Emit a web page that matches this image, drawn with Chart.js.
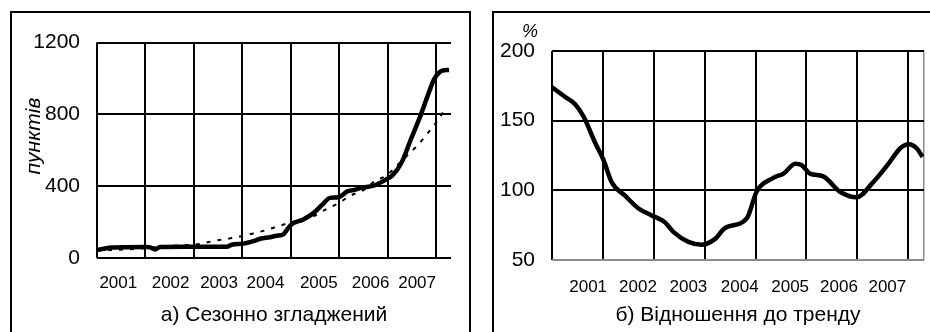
<!DOCTYPE html>
<html>
<head>
<meta charset="utf-8">
<script src="https://cdn.jsdelivr.net/npm/chart.js@4.4.1/dist/chart.umd.min.js"></script>
<style>
  body { margin: 0; background: #fff; width: 930px; height: 332px; overflow: hidden; position: relative; }
  .panel { position: absolute; top: 11px; height: 340px; border: 2px solid #000; }
  #panelA { left: 10px; width: 457px; }
  #panelB { left: 492px; width: 460px; }
  .panel canvas { position: absolute; left: 0; top: 0; }
</style>
</head>
<body>
<div class="panel" id="panelA"><canvas id="chartA" width="457" height="319"></canvas></div>
<div class="panel" id="panelB"><canvas id="chartB" width="436" height="319"></canvas></div>
<script>
// роки для підписів осі X
var yearLabels = ['2001', '2002', '2003', '2004', '2005', '2006', '2007'];
var gridYears = [2001, 2002, 2003, 2004, 2005, 2006, 2007, 2008];

// а) сезонно згладжений індекс, пунктів
var saYears = [2001.00, 2001.15, 2001.30, 2001.60, 2002.00, 2002.09, 2002.20, 2002.30, 2002.80, 2003.30,
  2003.68, 2003.78, 2004.02, 2004.23, 2004.37, 2004.57, 2004.71, 2004.85, 2004.93, 2005.02,
  2005.26, 2005.47, 2005.67, 2005.81, 2005.98, 2006.17, 2006.29, 2006.45, 2006.71, 2006.93,
  2007.10, 2007.29, 2007.48, 2007.69, 2007.85, 2007.96, 2008.07, 2008.16, 2008.27];
var saValues = [45, 52, 58, 60, 61, 60, 48, 61, 62, 62,
  62, 74, 80, 94, 107, 116, 124, 132, 160, 188,
  215, 250, 302, 335, 338, 371, 378, 391, 403, 431,
  460, 532, 660, 800, 920, 995, 1035, 1046, 1048];

// тренд (пунктир)
var trendYears = [2001.00, 2001.13, 2001.54, 2002.00, 2002.40, 2002.82, 2003.06, 2003.30, 2003.54, 2003.81,
  2004.23, 2004.50, 2004.74, 2005.10, 2005.47, 2005.74, 2005.97, 2006.24, 2006.50, 2006.74,
  2006.98, 2007.19, 2007.40, 2007.57, 2007.74, 2007.88, 2008.05, 2008.19];
var trendValues = [40, 43, 47, 55, 65, 72, 76, 89, 101, 112,
  137, 156, 177, 205, 233, 273, 303, 348, 378, 429,
  460, 514, 570, 614, 665, 713, 771, 831];

// б) відношення до тренду, %
var ratioYears = [2001.00, 2001.26, 2001.45, 2001.62, 2001.85, 2002.01, 2002.17, 2002.44, 2002.70, 2002.96,
  2003.22, 2003.39, 2003.68, 2003.94, 2004.20, 2004.40, 2004.83, 2005.02, 2005.35, 2005.55,
  2005.78, 2005.91, 2006.07, 2006.33, 2006.66, 2006.99, 2007.29, 2007.61, 2007.84, 2008.01,
  2008.17, 2008.28];
var ratioValues = [174, 167, 162, 153, 134, 122, 106, 96, 87, 82,
  77, 70, 63, 61, 65, 73, 80, 99, 109, 112,
  119, 118, 112, 110, 99, 95, 105, 119, 130, 133,
  130, 124];

// де стоять підписи років (у частках року)
var labelPosA = [2001.44, 2002.52, 2003.52, 2004.48, 2005.58, 2006.65, 2007.61];
var labelPosB = [2001.71, 2002.69, 2003.68, 2004.69, 2005.68, 2006.64, 2007.59];

var FONT = '"Liberation Sans", Arial, sans-serif';
Chart.defaults.font.family = FONT;
Chart.defaults.color = '#000';

function pts(xs, ys) {
  return xs.map(function (x, i) { return { x: x, y: ys[i] }; });
}

function xScales(labelPos, title, bottomH, tickPad, extraGrid) {
  return {
    x: {
      type: 'linear', min: 2001, max: 2008.31,
      afterBuildTicks: function (scale) {
        var t = gridYears.slice();
        if (extraGrid) t.push(2008.31);
        scale.ticks = t.map(function (v) { return { value: v }; });
      },
      afterFit: function (scale) { scale.height = 0; },
      ticks: { display: false },
      border: { display: false },
      grid: {
        drawTicks: false,
        color: function (c) { return c.tick && c.tick.value > 2008.1 ? '#8c8c8c' : '#000'; },
        lineWidth: function (c) { return c.tick && c.tick.value > 2008.1 ? 1.5 : 2; }
      }
    },
    xl: {
      type: 'linear', position: 'bottom', min: 2001, max: 2008.31,
      afterBuildTicks: function (scale) {
        scale.ticks = labelPos.map(function (v) { return { value: v }; });
      },
      afterFit: function (scale) { scale.height = bottomH; },
      grid: { display: false },
      border: { display: false },
      ticks: {
        autoSkip: false, maxRotation: 0, padding: tickPad,
        font: { size: 17 },
        callback: function (v, i) { return yearLabels[i]; }
      },
      title: { display: true, text: title, font: { size: 21 }, padding: { top: 0, bottom: 4 } }
    }
  };
}

// підписи, яких немає серед осей: «пунктів» і «%»
function sideLabel(text, x, y, size, rotate) {
  return {
    id: 'sideLabel',
    afterDraw: function (chart) {
      var ctx = chart.ctx;
      ctx.save();
      ctx.font = 'italic ' + size + 'px ' + FONT;
      ctx.fillStyle = '#000';
      ctx.textAlign = 'center';
      ctx.textBaseline = 'middle';
      ctx.translate(x, y);
      if (rotate) ctx.rotate(-Math.PI / 2);
      ctx.fillText(text, 0, 0);
      ctx.restore();
    }
  };
}

// а) Сезонно згладжений
var scalesA = xScales(labelPosA, 'а) Сезонно згладжений', 74, 7, false);
scalesA.y = {
  min: 0, max: 1200,
  ticks: { stepSize: 400, padding: 17, font: { size: 21 }, callback: function (v) { return String(v); } },
  afterFit: function (scale) { scale.width = 85; },
  border: { display: false },
  grid: { drawTicks: false, color: '#000', lineWidth: 2 }
};

new Chart(document.getElementById('chartA').getContext('2d'), {
  type: 'line',
  data: {
    datasets: [{
      label: 'Сезонно згладжений',
      data: pts(saYears, saValues),
      borderColor: '#000',
      borderWidth: 4.5,
      pointRadius: 0,
      cubicInterpolationMode: 'monotone',
      xAxisID: 'x'
    }, {
      label: 'Тренд',
      data: pts(trendYears, trendValues),
      borderColor: '#000',
      borderWidth: 2,
      borderDash: [4, 7],
      pointRadius: 0,
      cubicInterpolationMode: 'monotone',
      xAxisID: 'x'
    }]
  },
  options: {
    responsive: false,
    animation: false,
    layout: { padding: { left: 0, right: 18, top: 24, bottom: 0 } },
    plugins: { legend: { display: false }, tooltip: { enabled: false } },
    scales: scalesA
  },
  plugins: [sideLabel('пунктів', 22, 123, 21, true)]
});

// б) Відношення до тренду
var scalesB = xScales(labelPosB, 'б) Відношення до тренду', 72, 9, true);
scalesB.y = {
  min: 50, max: 200,
  ticks: { stepSize: 50, padding: 17, font: { size: 21 } },
  afterFit: function (scale) { scale.width = 58; },
  border: { display: false },
  grid: {
    drawTicks: false,
    color: function (c) { return c.tick && c.tick.value === 50 ? '#8c8c8c' : '#000'; },
    lineWidth: 2
  }
};

new Chart(document.getElementById('chartB').getContext('2d'), {
  type: 'line',
  data: {
    datasets: [{
      label: 'Відношення до тренду',
      data: pts(ratioYears, ratioValues),
      borderColor: '#000',
      borderWidth: 4.5,
      pointRadius: 0,
      cubicInterpolationMode: 'monotone',
      xAxisID: 'x'
    }]
  },
  options: {
    responsive: false,
    animation: false,
    layout: { padding: { left: 0, right: 6, top: 38, bottom: 0 } },
    plugins: { legend: { display: false }, tooltip: { enabled: false } },
    scales: scalesB
  },
  plugins: [sideLabel('%', 36, 19, 18, false)]
});
</script>
</body>
</html>
